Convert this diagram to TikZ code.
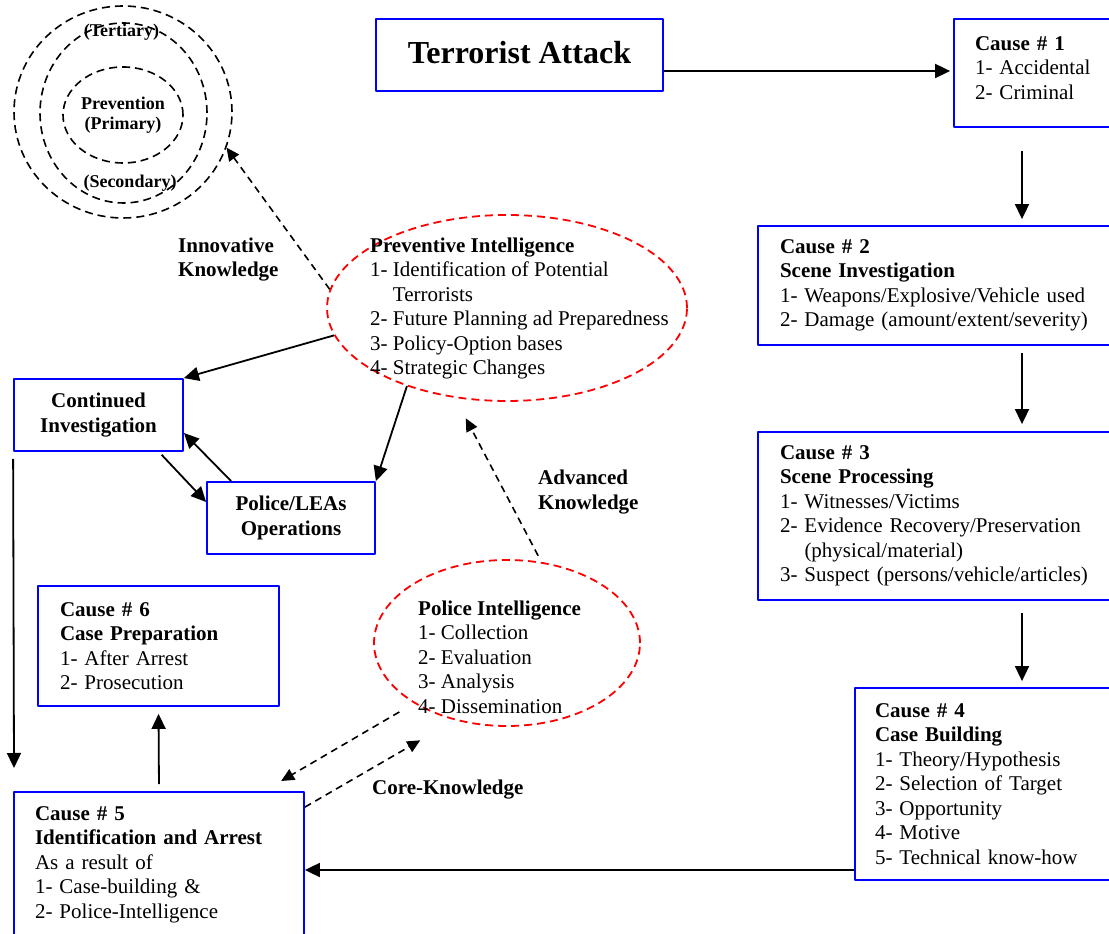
\documentclass[tikz,border=0pt]{standalone}
\usepackage{fontspec}
\setmainfont{Liberation Serif}
\usetikzlibrary{arrows.meta,shapes.geometric}
\newcommand{\bodyfont}{\fontsize{21bp}{24.5bp}\selectfont}
\newcommand{\ringfont}{\fontsize{18bp}{20bp}\selectfont\bfseries}
\newcommand{\titlefont}{\fontsize{32bp}{36bp}\selectfont\bfseries}
\tikzset{
  causebox/.style={draw=blue, line width=1.8bp, rectangle, inner ysep=0bp, align=left, font=\bodyfont},
  stepbox/.style={draw=blue, line width=1.8bp, rectangle, inner sep=0bp, align=center, minimum height=72bp, font=\bodyfont\bfseries},
  intel/.style={draw=red, line width=1.8bp, dash pattern=on 8bp off 5bp, ellipse, inner sep=0bp},
  ring/.style={draw=black, line width=1.6bp, dash pattern=on 8bp off 5bp, ellipse, inner sep=0bp},
  tag/.style={inner sep=0bp, anchor=west, align=left, font=\bodyfont\bfseries},
  flow/.style={->, line width=1.8bp},
  hint/.style={-{Triangle[length=13bp,width=12bp]}, line width=1.6bp, dash pattern=on 7bp off 5bp},
}
\begin{document}
\begin{tikzpicture}[>={Triangle[length=15bp,width=14bp]},line join=bevel,]
  \useasboundingbox (0bp,0bp) rectangle (1109bp,934bp);
  \clip (0bp,0bp) rectangle (1109bp,934bp);
%%
  % Node: Attack
  \node[stepbox, minimum width=287bp, font=\titlefont] (attack) at (519.5bp,879bp) {\raisebox{5bp}{Terrorist Attack}};
  % Node: Cause1 .. Cause6
\begin{scope}
  \node[causebox, text width=150bp, inner xsep=21bp, minimum height=108bp] (cause1) at (1050bp,861bp)
    {\textbf{Cause \# 1}\\1- Accidental\\2- Criminal\\[-14bp]\mbox{}};
  \node[causebox, text width=320bp, inner xsep=22bp, minimum height=119bp] (cause2) at (940bp,648.5bp)
    {\textbf{Cause \# 2}\\\textbf{Scene Investigation}\\1- Weapons/Explosive/Vehicle used\\2- Damage (amount/extent/severity)};
  \node[causebox, text width=320bp, inner xsep=22bp, minimum height=168bp] (cause3) at (940bp,418bp)
    {\textbf{Cause \# 3}\\\textbf{Scene Processing}\\1- Witnesses/Victims\\2- Evidence Recovery/Preservation\\\phantom{2- }(physical/material)\\3- Suspect (persons/vehicle/articles)};
  \node[causebox, text width=225bp, inner xsep=20bp, minimum height=192bp] (cause4) at (987.5bp,150bp)
    {\textbf{Cause \# 4}\\\textbf{Case Building}\\1- Theory/Hypothesis\\2- Selection of Target\\3- Opportunity\\4- Motive\\5- Technical know-how};
  \node[causebox, text width=248bp, inner xsep=21bp, minimum height=145bp] (cause5) at (159bp,69.5bp)
    {\textbf{Cause \# 5}\\\textbf{Identification and Arrest}\\As a result of\\1- Case-building \&\\2- Police-Intelligence};
  \node[causebox, text width=197bp, inner xsep=22bp, minimum height=120bp] (cause6) at (158.5bp,288bp)
    {\textbf{Cause \# 6}\\\textbf{Case Preparation}\\1- After Arrest\\2- Prosecution};
\end{scope}
  % Node: Contin, Police
  \node[stepbox, minimum width=169bp] (contin) at (98.5bp,519bp) {Continued\\Investigation};
  \node[stepbox, minimum width=168bp] (police) at (291bp,416bp) {Police/LEAs\\Operations};
  % Node: PrevInt
\begin{scope}
  \node[intel, minimum width=360bp, minimum height=186bp] (prevint) at (507bp,626bp) {};
  \node[tag, font=\bodyfont] (prevtxt) at (370bp,625.5bp)
    {\textbf{Preventive Intelligence}\\1- Identification of Potential\\\phantom{1- }Terrorists\\2- Future Planning ad Preparedness\\3- Policy-Option bases\\4- Strategic Changes};
\end{scope}
  % Node: PolInt
\begin{scope}
  \node[intel, minimum width=266bp, minimum height=166bp] (polint) at (507bp,291bp) {};
  \node[tag, font=\bodyfont] (poltxt) at (418bp,277bp)
    {\textbf{Police Intelligence}\\1- Collection\\2- Evaluation\\3- Analysis\\4- Dissemination};
\end{scope}
  % Node: Rings
\begin{scope}
  \node[ring, minimum width=218bp, minimum height=212bp] (tertiary) at (123bp,822bp) {};
  \node[ring, minimum width=167bp, minimum height=180bp] (secondary) at (123.5bp,821bp) {};
  \node[ring, minimum width=120bp, minimum height=96bp, font=\ringfont, align=center] (primary) at (123bp,819bp) {Prevention\\(Primary)};
  \node[tag, anchor=center, font=\ringfont] (tertlbl) at (121.5bp,902bp) {(Tertiary)};
  \node[tag, anchor=center, font=\ringfont] (seclbl) at (130bp,751bp) {(Secondary)};
\end{scope}
  % Labels
  \node[tag] (innov) at (178bp,674.5bp) {Innovative\\Knowledge};
  \node[tag] (advkn) at (538bp,442bp) {Advanced\\Knowledge};
  \node[tag] (corekn) at (372bp,144bp) {Core-Knowledge};
  \coordinate (spine) at (1022bp,0bp);
  \coordinate (floor) at (0bp,64bp);
  \coordinate (drop) at (14bp,166bp);
%%
  % Edge: Attack -> Cause1
  \draw[flow, shorten >=3bp] ([yshift=-16bp]attack.east) -- ([yshift=-16bp]attack.east -| cause1.west);
  % Edge: Cause1 -> Cause2 -> Cause3 -> Cause4
  \draw[flow, shorten <=23bp, shorten >=6bp] (cause1.south -| spine) -- (cause2.north -| spine);
  \draw[flow, shorten <=7bp, shorten >=7bp] (cause2.south -| spine) -- (cause3.north -| spine);
  \draw[flow, shorten <=12bp, shorten >=6bp] (cause3.south -| spine) -- (cause4.north -| spine);
  % Edge: Cause4 -> Cause5
  \draw[flow] (cause4.west |- floor) -- (cause5.east |- floor);
  % Edge: Cause5 -> Cause6
  \draw[flow, shorten <=7bp, shorten >=7bp] (cause5.north) -- (cause6.south);
  % Edge: Contin -> down
  \draw[flow, shorten <=7bp] (contin.south west) -- (drop);
  % Edge: PrevInt -> Contin, PrevInt -> Police
  \draw[flow] (prevint.189) -- (contin.north east);
  \draw[flow] (prevint.218) -- (police.north east);
  % Edge: Police <-> Contin
  \draw[flow] ([xshift=25bp]police.north west) -- ([yshift=-18bp]contin.east);
  \draw[flow, shorten <=4bp] ([xshift=-25bp]contin.south east) -- ([yshift=16bp]police.west);
  % Edge: dashed knowledge links
  \draw[hint] (prevint.174) -- (tertiary.-19);
  \draw[hint, shorten <=7bp, shorten >=23bp] (polint.67) -- (prevint.240);
  \draw[hint, shorten <=17bp, shorten >=20bp] (polint.213) -- ([xshift=-41bp]cause5.north east);
  \draw[hint, shorten >=40bp] ([yshift=-16bp]cause5.north east) -- (polint.236);
%
\end{tikzpicture}
\end{document}
